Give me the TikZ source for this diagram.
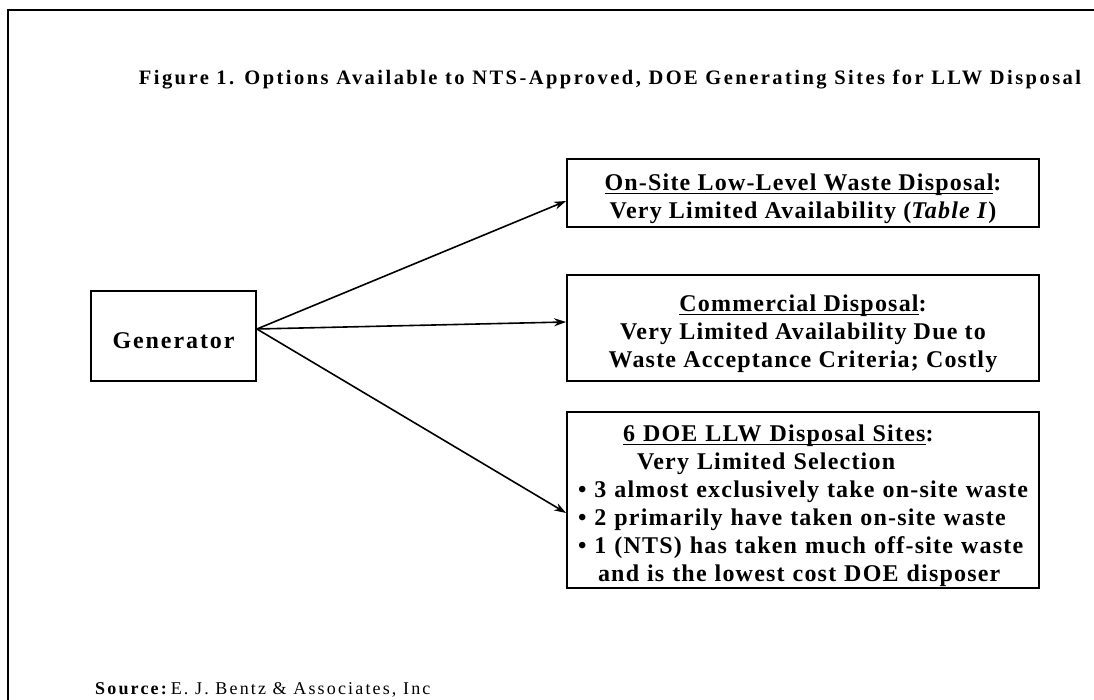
\documentclass[tikz,border=0pt]{standalone}
\usepackage{fontspec}
\setmainfont{Liberation Serif}
\newfontfamily\spacedfont{Liberation Serif}[LetterSpace=5]
\newfontfamily\titlefont{Liberation Serif}[LetterSpace=12]
\newcommand\uln[1]{\setbox0\hbox{#1}\rlap{\rule[-3.5pt]{\wd0}{1.5pt}}\box0}
\newcommand\firstline{\rule{0pt}{29pt}}
\usepackage{tikz}
\usetikzlibrary{arrows.meta}
\usetikzlibrary{positioning}

\begin{document}
\begin{tikzpicture}[x=1pt,y=-1pt,
        optbox/.style={draw, line width=1.8pt, inner sep=0pt, minimum width=472pt,
            font=\spacedfont\bfseries\fontsize{24}{28}\selectfont},
        flow/.style={line width=1.6pt, -{Stealth[length=12pt,width=8pt]}}]
    \useasboundingbox (0,0) rectangle (1094,700);
    % frame
    \draw[line width=2.4pt] (1094,10) -- (8,10) -- (8,700);
    \node (title) at (610,80)
        {\titlefont\bfseries\fontsize{20.5}{22}\selectfont Figure 1. Options Available to NTS-Approved, DOE Generating Sites for LLW Disposal};
    % generator
    \node[draw, line width=1.8pt, minimum width=165pt, minimum height=90pt, inner sep=0pt,
          text height=24pt, text depth=0pt,
          font=\spacedfont\bfseries\fontsize{24}{28}\selectfont] (gen) at (173.5,336) {\addfontfeature{LetterSpace=8}Generator};
    % options
    \node[optbox, minimum height=68pt, align=center] (onsite) at (803,193)
        {\firstline\uln{On-Site Low-Level Waste Disposal}:\\
         Very Limited Availability (\textit{Table I})};
    \node[optbox, minimum height=106pt, align=center] (commercial) at (803,328)
        {\firstline\uln{Commercial Disposal}:\\
         Very Limited Availability Due to\\
         Waste Acceptance Criteria; Costly};
    \node[optbox, minimum height=176pt, text width=450pt, align=left] (doesites) at (803,500)
        {\firstline\hspace*{45pt}\uln{6 DOE LLW Disposal Sites}:\\
         \hspace*{59pt}Very Limited Selection\\
         \textbullet\ 3 almost exclusively take on-site waste\\
         \textbullet\ 2 primarily have taken on-site waste\\
         \textbullet\ 1 (NTS) has taken much off-site waste\\
         \hspace*{20pt}and is the lowest cost DOE disposer};
    % arrows
    \coordinate (src) at ([yshift=7pt]gen.east);
    \draw[flow] (src) -- ([yshift=-8pt]onsite.west);
    \draw[flow] (src) -- ([yshift=6pt]commercial.west);
    \draw[flow] (src) -- ([yshift=-13pt]doesites.west);
    % source
    \node[anchor=base west, inner sep=0pt] (source) at (95,694)
        {\fontsize{18}{20}\selectfont{\titlefont\bfseries Source:}\hspace{4pt}{\spacedfont\addfontfeature{LetterSpace=12}E. J. Bentz \& Associates, Inc}};
\end{tikzpicture}
\end{document}
